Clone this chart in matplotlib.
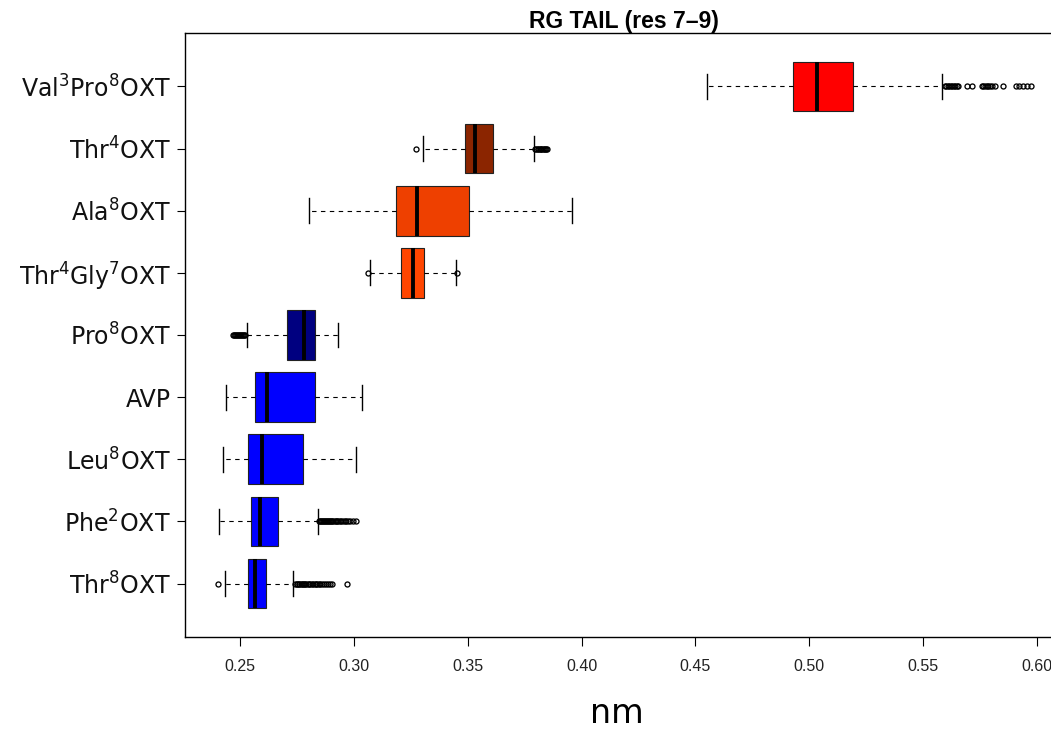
import matplotlib
matplotlib.use("Agg")
import matplotlib.pyplot as plt

plt.rcParams["mathtext.fontset"] = "dejavusans"

# Peptide variants, bottom to top
labels = [
    r"Thr$^{8}$OXT", r"Phe$^{2}$OXT", r"Leu$^{8}$OXT", "AVP", r"Pro$^{8}$OXT",
    r"Thr$^{4}$Gly$^{7}$OXT", r"Ala$^{8}$OXT", r"Thr$^{4}$OXT", r"Val$^{3}$Pro$^{8}$OXT",
]
colors = ["#0000FF", "#0000FF", "#0000FF", "#0000FF", "#000080",
          "#FF4500", "#EE4000", "#8B2500", "#FF0000"]

# Five-number summaries (nm)
whis_lo = [0.2434, 0.2408, 0.2424, 0.2437, 0.2528, 0.3069, 0.2803, 0.3303, 0.4552]
q1      = [0.2535, 0.2546, 0.2535, 0.2563, 0.2705, 0.3207, 0.3185, 0.3486, 0.4930]
median  = [0.2563, 0.2588, 0.2597, 0.2617, 0.2781, 0.3257, 0.3275, 0.3530, 0.5033]
q3      = [0.2613, 0.2667, 0.2774, 0.2828, 0.2828, 0.3307, 0.3505, 0.3612, 0.5193]
whis_hi = [0.2730, 0.2840, 0.3007, 0.3033, 0.2931, 0.3446, 0.3957, 0.3790, 0.5584]

# Outlying observations per variant
out_thr8 = [0.2403, 0.2742, 0.2747, 0.2751, 0.2756, 0.2760, 0.2766, 0.2771, 0.2775,
            0.2781, 0.2786, 0.2790, 0.2797, 0.2802, 0.2808, 0.2813, 0.2819, 0.2826,
            0.2832, 0.2839, 0.2845, 0.2852, 0.2860, 0.2868, 0.2876, 0.2885, 0.2896,
            0.2905, 0.2967]
out_phe2 = [0.2845, 0.2849, 0.2854, 0.2858, 0.2862, 0.2867, 0.2871, 0.2876, 0.2880,
            0.2885, 0.2890, 0.2894, 0.2899, 0.2903, 0.2909, 0.2914, 0.2920, 0.2925,
            0.2931, 0.2938, 0.2944, 0.2951, 0.2958, 0.2966, 0.2974, 0.2984, 0.2997,
            0.3008]
out_leu8 = []
out_avp = []
out_pro8 = [0.2467, 0.2472, 0.2476, 0.2481, 0.2486, 0.2490, 0.2495, 0.2499, 0.2504,
            0.2508, 0.2513, 0.2517, 0.2521]
out_thr4gly7 = [0.3062, 0.3452]
out_ala8 = []
out_thr4 = [0.3272, 0.3797, 0.3801, 0.3806, 0.3810, 0.3815, 0.3819, 0.3823, 0.3828,
            0.3833, 0.3838, 0.3842, 0.3846]
out_val3pro8 = [0.5596, 0.5602, 0.5609, 0.5615, 0.5621, 0.5628, 0.5634, 0.5641,
                0.5648, 0.5655, 0.5692, 0.5717, 0.5757, 0.5764, 0.5772, 0.5779,
                0.5787, 0.5794, 0.5801, 0.5816, 0.5852, 0.5908, 0.5923, 0.5938,
                0.5958, 0.5973]
outliers = [out_thr8, out_phe2, out_leu8, out_avp, out_pro8,
            out_thr4gly7, out_ala8, out_thr4, out_val3pro8]

title = "RG TAIL (res 7\u20139)"
xlabel = "nm"
xticks = [0.25, 0.30, 0.35, 0.40, 0.45, 0.50, 0.55, 0.60]

W, H = 1051, 731
fig = plt.figure(figsize=(W / 100, H / 100), dpi=100)
left, right, top, bottom = 185, 1062.6, 33, 637
ax = fig.add_axes([left / W, 1 - bottom / H, (right - left) / W, (bottom - top) / H])

stats = []
for i in range(len(labels)):
    stats.append(dict(whislo=whis_lo[i], q1=q1[i], med=median[i], q3=q3[i],
                      whishi=whis_hi[i], fliers=outliers[i]))

positions = list(range(1, len(labels) + 1))
bp = ax.bxp(
    stats, positions=positions, widths=0.8, orientation="horizontal",
    patch_artist=True, showfliers=True,
    boxprops=dict(edgecolor="#222222", linewidth=0.8),
    medianprops=dict(color="black", linewidth=2.8, solid_capstyle="butt"),
    whiskerprops=dict(color="black", linewidth=0.8, linestyle=(0, (4, 4))),
    capprops=dict(color="black", linewidth=1.0),
    flierprops=dict(marker="o", markerfacecolor="none", markeredgecolor="black",
                    markersize=3.6, markeredgewidth=0.95),
)
for patch, c in zip(bp["boxes"], colors):
    patch.set_facecolor(c)

ax.set_ylim(0.14, 9.86)
ax.set_xlim(0.2257, 0.6113)
ax.set_yticks(positions)
ax.set_yticklabels(labels, fontsize=17, fontfamily="DejaVu Sans", color="#111111")
ax.set_xticks(xticks)
ax.set_xticklabels([f"{t:.2f}" for t in xticks], fontsize=11.5,
                   fontfamily="Liberation Sans", color="#222222")
ax.tick_params(axis="x", length=6.5, width=0.8, pad=9)
ax.tick_params(axis="y", length=6, width=0.8, pad=4)
for side in ("left", "bottom", "top", "right"):
    ax.spines[side].set_linewidth(1.0)

ax.set_title(title, fontsize=16.5, fontweight="bold", fontfamily="Liberation Sans",
             pad=1)
fig.text(617 / W, 1 - 730 / H, xlabel, fontsize=24, fontfamily="DejaVu Sans",
         ha="center", va="bottom")

fig.savefig("out.png", dpi=100)
